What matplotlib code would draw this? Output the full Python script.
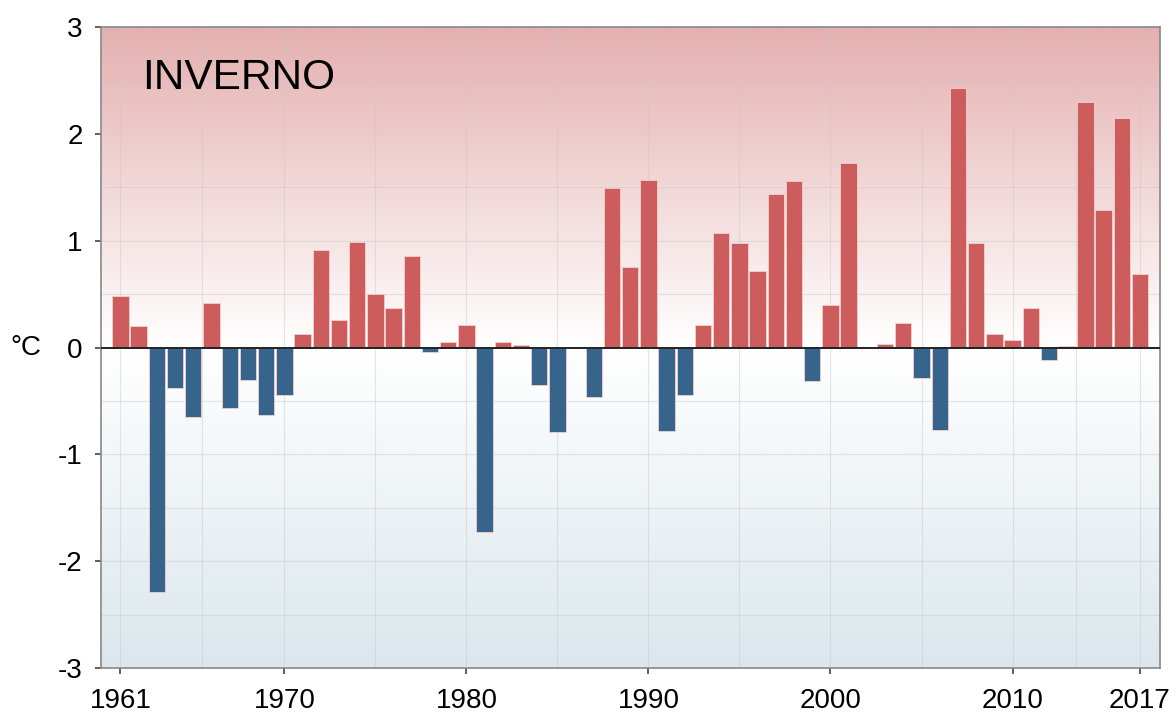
import numpy as np
import matplotlib
matplotlib.use("Agg")
import matplotlib.pyplot as plt
from matplotlib.colors import LinearSegmentedColormap

years = list(range(1961, 2018))
anomalies = [0.48, 0.20, -2.29, -0.38, -0.65, 0.42, -0.57, -0.30, -0.63, -0.44,
             0.13, 0.91, 0.26, 0.99, 0.50, 0.37, 0.86, -0.04, 0.05, 0.21,
             -1.73, 0.05, 0.025, -0.35, -0.79, 0.0, -0.465, 1.495, 0.75, 1.57,
             -0.78, -0.44, 0.21, 1.07, 0.98, 0.715, 1.435, 1.56, -0.31, 0.40,
             1.73, 0.0, 0.03, 0.23, -0.29, -0.77, 2.43, 0.98, 0.13, 0.07,
             0.37, -0.12, 0.01, 2.30, 1.29, 2.15, 0.69]
xtick_years = [1961, 1970, 1980, 1990, 2000, 2010, 2017]
yticks = [-3, -2, -1, 0, 1, 2, 3]
title_text = "INVERNO"
ylabel_text = "°C"

plt.rcParams['font.family'] = ['Liberation Sans', 'DejaVu Sans']

fig = plt.figure(figsize=(11.76, 7.17), dpi=100)
ax = fig.add_axes([101/1176, 1-668/717, (1160-101)/1176, (668-27)/717])

xlim = (1959.93, 2018.1)
ylim = (-3, 3)
ax.set_xlim(*xlim)
ax.set_ylim(*ylim)

# background gradient
cmap = LinearSegmentedColormap.from_list(
    "bg", [(0.0, "#dbe7ed"), (0.5, "#ffffff"), (1.0, "#e5b0b0")])
grad = np.linspace(0, 1, 512).reshape(-1, 1)
ax.imshow(grad, extent=[xlim[0], xlim[1], ylim[0], ylim[1]], origin="lower",
          aspect="auto", cmap=cmap, zorder=0)

# grid
for yv in np.arange(-3, 3.01, 0.5):
    ax.axhline(yv, color="#c8c8c8", lw=0.8, alpha=0.45, zorder=1)
minor_x = [(a + b) / 2 for a, b in zip(xtick_years[:-1], xtick_years[1:])]
for xv in xtick_years + minor_x:
    ax.axvline(xv, color="#c8c8c8", lw=0.8, alpha=0.45, zorder=1)

colors = ["#cd5c5c" if v >= 0 else "#36648b" for v in anomalies]
ax.bar(years, anomalies, width=0.9, color=colors, edgecolor="#f2d0d0",
       linewidth=0.6, zorder=2)

ax.axhline(0, color="#222222", lw=1.4, zorder=3)

ax.set_xticks(xtick_years)
ax.set_xticklabels([str(y) for y in xtick_years])
ax.set_yticks(yticks)
ax.set_yticklabels([str(y) for y in yticks])
ax.tick_params(axis="both", labelsize=20, direction="out", length=4.3,
               width=1.2, color="#444444")
ax.tick_params(axis="x", pad=10)
ax.tick_params(axis="y", pad=9)

for s in ax.spines.values():
    s.set_color("#888888")
    s.set_linewidth(1.2)

ax.text((142 - 101) / 1059, (668 - 78) / 641, title_text, transform=ax.transAxes,
        fontsize=30.5, va="center", ha="left", color="black")

fig.text(26/1176, 1-348/717, ylabel_text, fontsize=20, ha="center", va="center")

fig.savefig("out.png", dpi=100)
